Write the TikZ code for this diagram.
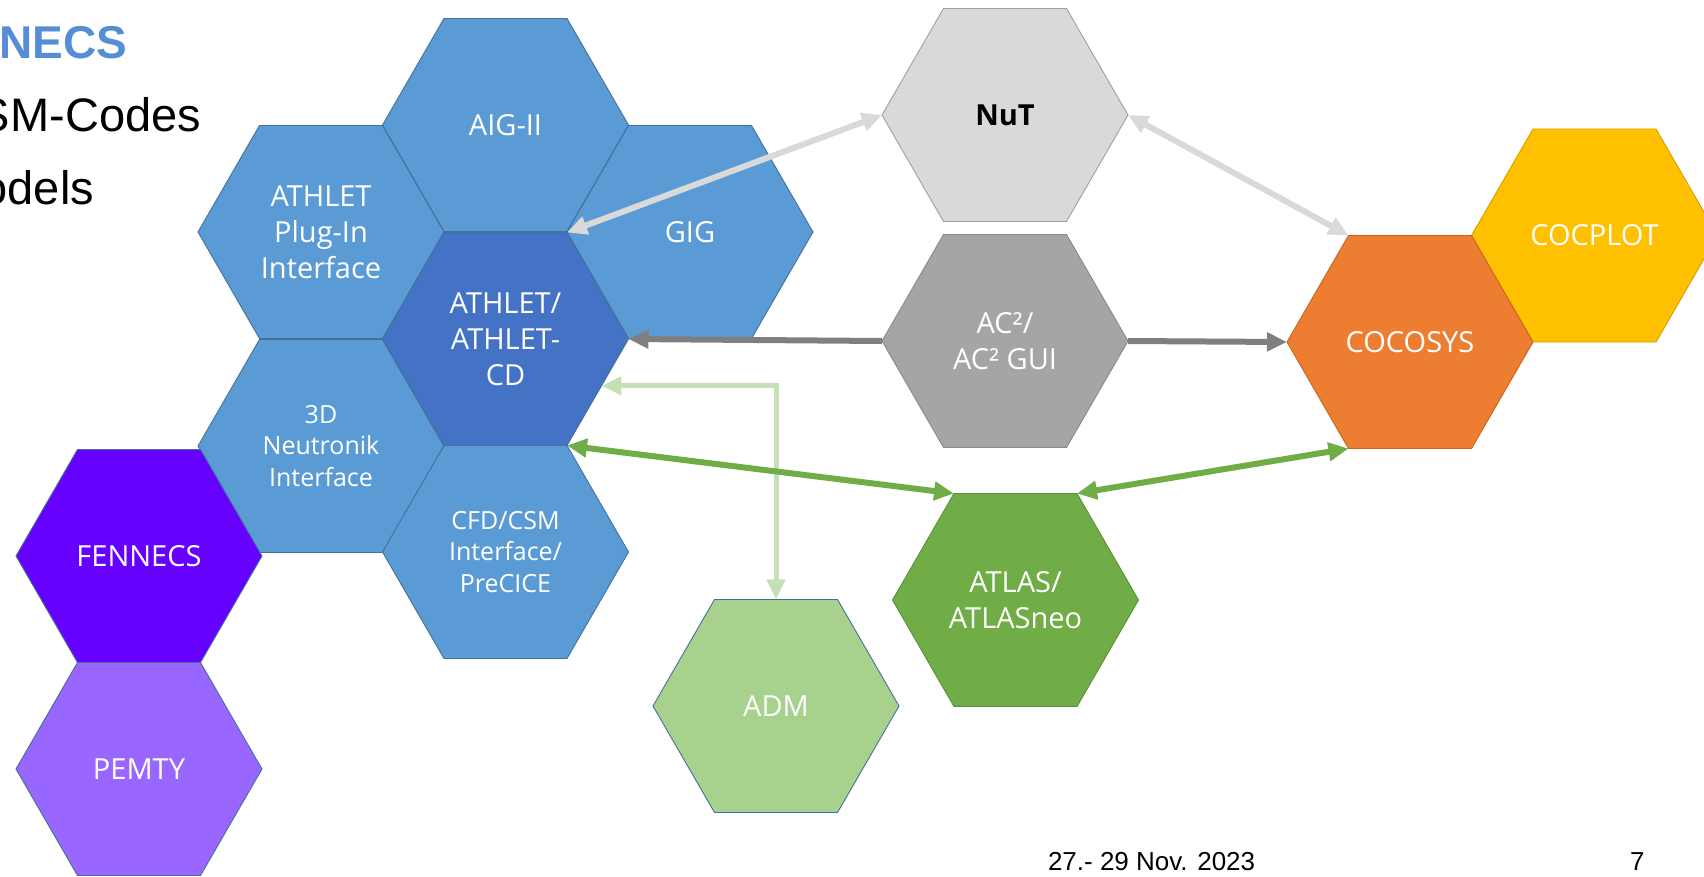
\documentclass[tikz,border=0pt]{standalone}
\usepackage{fontspec}
\setmainfont{Open Sans}
\newfontfamily\arialfont{Liberation Sans}
\usetikzlibrary{shapes.geometric,arrows.meta}

\definecolor{hexblue}{HTML}{5B9BD5}
\definecolor{hexdblue}{HTML}{4472C4}
\definecolor{bluebord}{HTML}{41719C}
\definecolor{fenn}{HTML}{6600FF}
\definecolor{pemty}{HTML}{9966FF}
\definecolor{nutgray}{HTML}{D9D9D9}
\definecolor{nutbord}{HTML}{A0A0A0}
\definecolor{acgray}{HTML}{A5A5A5}
\definecolor{acbord}{HTML}{8A8A8A}
\definecolor{cocorange}{HTML}{ED7D31}
\definecolor{cocbord}{HTML}{C8651F}
\definecolor{cocyellow}{HTML}{FFC000}
\definecolor{ylwbord}{HTML}{D4A000}
\definecolor{admgreen}{HTML}{A9D18E}
\definecolor{atlgreen}{HTML}{70AD47}
\definecolor{atlbord}{HTML}{5A8F38}
\definecolor{titleblue}{HTML}{558ED5}
\definecolor{arrlgray}{HTML}{D9D9D9}
\definecolor{arrdgray}{HTML}{7F7F7F}
\definecolor{arrlgreen}{HTML}{C5E0B4}

\begin{document}
\begin{tikzpicture}[x=1pt,y=-1pt,
  hex/.style={regular polygon, regular polygon sides=6, minimum size=246pt,
    inner sep=0pt, outer sep=0pt, align=center, text=white,
    font=\fontsize{29}{36}\selectfont, line width=0.9pt},
  bluehex/.style={hex, fill=hexblue, draw=bluebord},
  smalltext/.style={font=\fontsize{25}{31.5}\selectfont},
  both/.style={line width=6pt, {Triangle[length=20pt,width=18pt]}-{Triangle[length=20pt,width=18pt]}},
  single/.style={line width=6pt, -{Triangle[length=20pt,width=18pt]}},
  slidetext/.style={inner sep=0pt, outer sep=0pt}
]
\useasboundingbox (0,0) rectangle (1704,876);
\clip (0,0) rectangle (1704,876);

% slide text
\node[slidetext, anchor=base east, text=titleblue, font=\arialfont\bfseries\fontsize{46}{50}\selectfont] (ttl) at (127,58) {NECS};
\node[slidetext, anchor=base east, font=\arialfont\fontsize{47}{52}\selectfont] (l1) at (201,131.5) {SM-Codes};
\node[slidetext, anchor=base east, font=\arialfont\fontsize{47}{52}\selectfont] (l2) at (94,204) {odels};
\node[slidetext, anchor=base west, font=\arialfont\fontsize{26}{30}\selectfont] (date) at (1048,870) {27.- 29 Nov. 2023};
\node[slidetext, anchor=base west, font=\arialfont\fontsize{26}{30}\selectfont] (pg) at (1630,870) {7};

% honeycomb
\node[bluehex] (aig) at (505.5,125) {AIG-II};
\node[bluehex] (plug) at (321,232) {ATHLET\\Plug-In\\Interface};
\node[bluehex] (gig) at (690,232) {GIG};
\node[bluehex, smalltext] (neu) at (321,446) {3D\\Neutronik\\Interface};
\node[bluehex, smalltext] (cfd) at (505.5,552) {CFD/CSM\\Interface/\\PreCICE};
\node[hex, fill=hexdblue, draw=bluebord] (ath) at (505.5,339) {ATHLET/\\ATHLET-\\CD};

\node[hex, fill=fenn, draw=bluebord] (fen) at (139,556) {FENNECS};
\node[hex, fill=pemty, draw=bluebord] (pem) at (139,769) {PEMTY};

\node[hex, fill=nutgray, draw=nutbord, text=black, font=\bfseries\fontsize{29}{36}\selectfont] (nut) at (1005,115) {NuT};
\node[hex, fill=acgray, draw=acbord] (ac) at (1005,341) {AC²/\\AC² GUI};

\node[hex, fill=cocyellow, draw=ylwbord] (cpl) at (1594.5,235.5) {COCPLOT};
\node[hex, fill=cocorange, draw=cocbord] (coc) at (1410,342) {COCOSYS};

\node[hex, fill=admgreen, draw=bluebord] (adm) at (776,706) {ADM};
\node[hex, fill=atlgreen, draw=atlbord] (atl) at (1015.5,600) {ATLAS/\\ATLASneo};

% connectors
\draw[both, arrlgreen, line width=5pt] (ath.-26.8) -| (adm.90);
\draw[both, arrlgray] (nut.180) -- (ath.60);
\draw[both, arrlgray] (nut.0) -- (coc.120);
\draw[single, arrdgray] (ac.180) -- (ath.0);
\draw[single, arrdgray] (ac.0) -- (coc.180);
\draw[both, atlgreen] (ath.-60) -- (atl.120);
\draw[both, atlgreen] (atl.60) -- (coc.-120);
\end{tikzpicture}
\end{document}
